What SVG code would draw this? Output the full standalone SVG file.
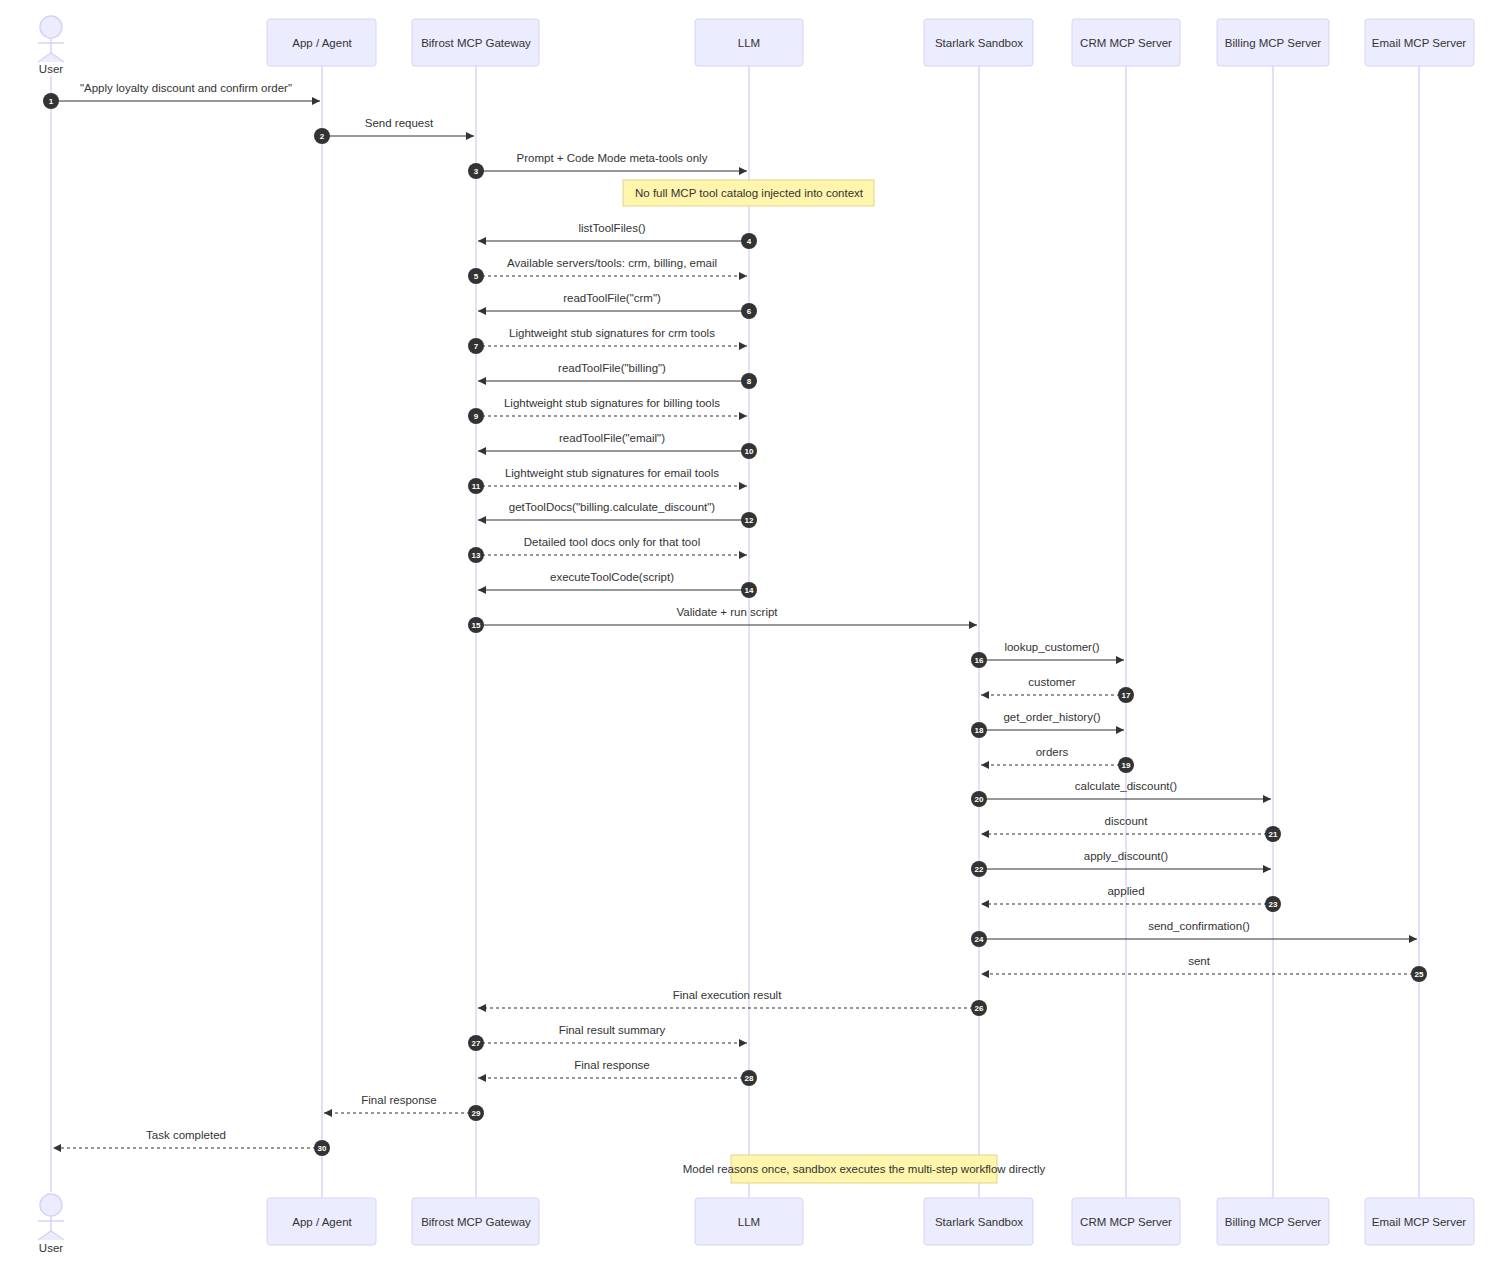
<svg xmlns="http://www.w3.org/2000/svg" width="1496" height="1262" viewBox="0 0 1496 1262">
<style>
text{font-family:"Liberation Sans",Arial,sans-serif;font-size:11.5px;fill:#333;text-anchor:middle}
.box{fill:#ECECFF;stroke:#D8D2F5;stroke-width:1}
.life{stroke:#DCD6F7;stroke-width:1.5}
.msg{stroke:#333;stroke-width:1.2;fill:none;marker-end:url(#ah)}
.dash{stroke-dasharray:3,3}
.num{fill:#333}
.nt{fill:#fff;font-size:8px;font-weight:bold}
.note{fill:#FFF5AD;stroke:#E0D58A}
.act{fill:#ECECFF;stroke:#D8D2F5;stroke-width:1.5}
</style>
<defs>
<marker id="ah" viewBox="0 0 10 10" refX="10" refY="5" markerWidth="8" markerHeight="8" markerUnits="userSpaceOnUse" orient="auto"><path d="M0,0 L10,5 L0,10 z" fill="#333"/></marker>
</defs>
<rect width="1496" height="1262" fill="#fff"/>
<g id="lifelines">
<line class="life" x1="51" y1="76" x2="51" y2="1192"/>
<line class="life" x1="322" y1="66" x2="322" y2="1198"/>
<line class="life" x1="476" y1="66" x2="476" y2="1198"/>
<line class="life" x1="749" y1="66" x2="749" y2="1198"/>
<line class="life" x1="979" y1="66" x2="979" y2="1198"/>
<line class="life" x1="1126" y1="66" x2="1126" y2="1198"/>
<line class="life" x1="1273" y1="66" x2="1273" y2="1198"/>
<line class="life" x1="1419" y1="66" x2="1419" y2="1198"/>
</g>
<g id="user">
<circle class="act" cx="51" cy="27" r="11"/><line class="act" x1="51" y1="38" x2="51" y2="53"/><line class="act" x1="38" y1="43" x2="64" y2="43"/><path class="act" fill="none" d="M38,62 L51,53 L64,62"/>
<text x="51" y="73">User</text>
<circle class="act" cx="51" cy="1205" r="11"/><line class="act" x1="51" y1="1216" x2="51" y2="1231"/><line class="act" x1="38" y1="1221" x2="64" y2="1221"/><path class="act" fill="none" d="M38,1240 L51,1231 L64,1240"/>
<text x="51" y="1252">User</text>
</g>
<g id="app"><rect class="box" x="267" y="19" width="109" height="47" rx="3"/><text x="322" y="47">App / Agent</text><rect class="box" x="267" y="1198" width="109" height="47" rx="3"/><text x="322" y="1226">App / Agent</text></g>
<g id="bifrost"><rect class="box" x="412" y="19" width="127" height="47" rx="3"/><text x="476" y="47">Bifrost MCP Gateway</text><rect class="box" x="412" y="1198" width="127" height="47" rx="3"/><text x="476" y="1226">Bifrost MCP Gateway</text></g>
<g id="llm"><rect class="box" x="695" y="19" width="108" height="47" rx="3"/><text x="749" y="47">LLM</text><rect class="box" x="695" y="1198" width="108" height="47" rx="3"/><text x="749" y="1226">LLM</text></g>
<g id="starlark"><rect class="box" x="924" y="19" width="109" height="47" rx="3"/><text x="979" y="47">Starlark Sandbox</text><rect class="box" x="924" y="1198" width="109" height="47" rx="3"/><text x="979" y="1226">Starlark Sandbox</text></g>
<g id="crm"><rect class="box" x="1072" y="19" width="108" height="47" rx="3"/><text x="1126" y="47">CRM MCP Server</text><rect class="box" x="1072" y="1198" width="108" height="47" rx="3"/><text x="1126" y="1226">CRM MCP Server</text></g>
<g id="billing"><rect class="box" x="1217" y="19" width="112" height="47" rx="3"/><text x="1273" y="47">Billing MCP Server</text><rect class="box" x="1217" y="1198" width="112" height="47" rx="3"/><text x="1273" y="1226">Billing MCP Server</text></g>
<g id="email"><rect class="box" x="1365" y="19" width="109" height="47" rx="3"/><text x="1419" y="47">Email MCP Server</text><rect class="box" x="1365" y="1198" width="109" height="47" rx="3"/><text x="1419" y="1226">Email MCP Server</text></g>
<g id="notes">
<rect class="note" x="623" y="180" width="251" height="26"/><text x="749" y="197">No full MCP tool catalog injected into context</text>
<rect class="note" x="731" y="1155" width="266" height="28"/><text x="864" y="1173">Model reasons once, sandbox executes the multi-step workflow directly</text>
</g>
<g id="connectors">
<line class="msg" x1="51" y1="101" x2="320" y2="101"/><text x="186" y="92">"Apply loyalty discount and confirm order"</text>
<line class="msg" x1="322" y1="136" x2="474" y2="136"/><text x="399" y="127">Send request</text>
<line class="msg" x1="476" y1="171" x2="747" y2="171"/><text x="612" y="162">Prompt + Code Mode meta-tools only</text>
<line class="msg" x1="749" y1="241" x2="478" y2="241"/><text x="612" y="232">listToolFiles()</text>
<line class="msg dash" x1="476" y1="276" x2="747" y2="276"/><text x="612" y="267">Available servers/tools: crm, billing, email</text>
<line class="msg" x1="749" y1="311" x2="478" y2="311"/><text x="612" y="302">readToolFile("crm")</text>
<line class="msg dash" x1="476" y1="346" x2="747" y2="346"/><text x="612" y="337">Lightweight stub signatures for crm tools</text>
<line class="msg" x1="749" y1="381" x2="478" y2="381"/><text x="612" y="372">readToolFile("billing")</text>
<line class="msg dash" x1="476" y1="416" x2="747" y2="416"/><text x="612" y="407">Lightweight stub signatures for billing tools</text>
<line class="msg" x1="749" y1="451" x2="478" y2="451"/><text x="612" y="442">readToolFile("email")</text>
<line class="msg dash" x1="476" y1="486" x2="747" y2="486"/><text x="612" y="477">Lightweight stub signatures for email tools</text>
<line class="msg" x1="749" y1="520" x2="478" y2="520"/><text x="612" y="511">getToolDocs("billing.calculate_discount")</text>
<line class="msg dash" x1="476" y1="555" x2="747" y2="555"/><text x="612" y="546">Detailed tool docs only for that tool</text>
<line class="msg" x1="749" y1="590" x2="478" y2="590"/><text x="612" y="581">executeToolCode(script)</text>
<line class="msg" x1="476" y1="625" x2="977" y2="625"/><text x="727" y="616">Validate + run script</text>
<line class="msg" x1="979" y1="660" x2="1124" y2="660"/><text x="1052" y="651">lookup_customer()</text>
<line class="msg dash" x1="1126" y1="695" x2="981" y2="695"/><text x="1052" y="686">customer</text>
<line class="msg" x1="979" y1="730" x2="1124" y2="730"/><text x="1052" y="721">get_order_history()</text>
<line class="msg dash" x1="1126" y1="765" x2="981" y2="765"/><text x="1052" y="756">orders</text>
<line class="msg" x1="979" y1="799" x2="1271" y2="799"/><text x="1126" y="790">calculate_discount()</text>
<line class="msg dash" x1="1273" y1="834" x2="981" y2="834"/><text x="1126" y="825">discount</text>
<line class="msg" x1="979" y1="869" x2="1271" y2="869"/><text x="1126" y="860">apply_discount()</text>
<line class="msg dash" x1="1273" y1="904" x2="981" y2="904"/><text x="1126" y="895">applied</text>
<line class="msg" x1="979" y1="939" x2="1417" y2="939"/><text x="1199" y="930">send_confirmation()</text>
<line class="msg dash" x1="1419" y1="974" x2="981" y2="974"/><text x="1199" y="965">sent</text>
<line class="msg dash" x1="979" y1="1008" x2="478" y2="1008"/><text x="727" y="999">Final execution result</text>
<line class="msg dash" x1="476" y1="1043" x2="747" y2="1043"/><text x="612" y="1034">Final result summary</text>
<line class="msg dash" x1="749" y1="1078" x2="478" y2="1078"/><text x="612" y="1069">Final response</text>
<line class="msg dash" x1="476" y1="1113" x2="324" y2="1113"/><text x="399" y="1104">Final response</text>
<line class="msg dash" x1="322" y1="1148" x2="53" y2="1148"/><text x="186" y="1139">Task completed</text>
</g>
<g id="numbers">
<circle class="num" cx="51" cy="101" r="8"/><text class="nt" x="51" y="104">1</text>
<circle class="num" cx="322" cy="136" r="8"/><text class="nt" x="322" y="139">2</text>
<circle class="num" cx="476" cy="171" r="8"/><text class="nt" x="476" y="174">3</text>
<circle class="num" cx="749" cy="241" r="8"/><text class="nt" x="749" y="244">4</text>
<circle class="num" cx="476" cy="276" r="8"/><text class="nt" x="476" y="279">5</text>
<circle class="num" cx="749" cy="311" r="8"/><text class="nt" x="749" y="314">6</text>
<circle class="num" cx="476" cy="346" r="8"/><text class="nt" x="476" y="349">7</text>
<circle class="num" cx="749" cy="381" r="8"/><text class="nt" x="749" y="384">8</text>
<circle class="num" cx="476" cy="416" r="8"/><text class="nt" x="476" y="419">9</text>
<circle class="num" cx="749" cy="451" r="8"/><text class="nt" x="749" y="454">10</text>
<circle class="num" cx="476" cy="486" r="8"/><text class="nt" x="476" y="489">11</text>
<circle class="num" cx="749" cy="520" r="8"/><text class="nt" x="749" y="523">12</text>
<circle class="num" cx="476" cy="555" r="8"/><text class="nt" x="476" y="558">13</text>
<circle class="num" cx="749" cy="590" r="8"/><text class="nt" x="749" y="593">14</text>
<circle class="num" cx="476" cy="625" r="8"/><text class="nt" x="476" y="628">15</text>
<circle class="num" cx="979" cy="660" r="8"/><text class="nt" x="979" y="663">16</text>
<circle class="num" cx="1126" cy="695" r="8"/><text class="nt" x="1126" y="698">17</text>
<circle class="num" cx="979" cy="730" r="8"/><text class="nt" x="979" y="733">18</text>
<circle class="num" cx="1126" cy="765" r="8"/><text class="nt" x="1126" y="768">19</text>
<circle class="num" cx="979" cy="799" r="8"/><text class="nt" x="979" y="802">20</text>
<circle class="num" cx="1273" cy="834" r="8"/><text class="nt" x="1273" y="837">21</text>
<circle class="num" cx="979" cy="869" r="8"/><text class="nt" x="979" y="872">22</text>
<circle class="num" cx="1273" cy="904" r="8"/><text class="nt" x="1273" y="907">23</text>
<circle class="num" cx="979" cy="939" r="8"/><text class="nt" x="979" y="942">24</text>
<circle class="num" cx="1419" cy="974" r="8"/><text class="nt" x="1419" y="977">25</text>
<circle class="num" cx="979" cy="1008" r="8"/><text class="nt" x="979" y="1011">26</text>
<circle class="num" cx="476" cy="1043" r="8"/><text class="nt" x="476" y="1046">27</text>
<circle class="num" cx="749" cy="1078" r="8"/><text class="nt" x="749" y="1081">28</text>
<circle class="num" cx="476" cy="1113" r="8"/><text class="nt" x="476" y="1116">29</text>
<circle class="num" cx="322" cy="1148" r="8"/><text class="nt" x="322" y="1151">30</text>
</g>
</svg>
